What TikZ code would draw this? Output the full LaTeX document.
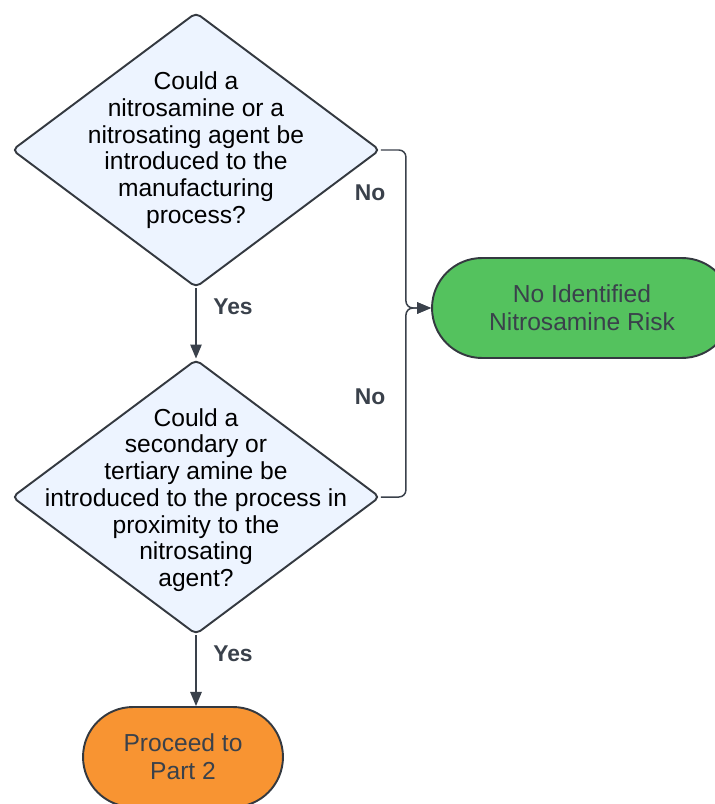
\documentclass[tikz,border=0pt]{standalone}
\usepackage{fontspec}
\setmainfont{Liberation Sans}
\usepackage{tikz}
\usetikzlibrary{shapes.geometric,arrows.meta,positioning,calc}
\definecolor{qblue}{RGB}{237,244,255}
\definecolor{edgegrey}{RGB}{52,57,64}
\definecolor{inkgrey}{RGB}{58,65,75}
\definecolor{riskgreen}{RGB}{84,194,94}
\definecolor{partorange}{RGB}{248,148,50}

\begin{document}
\begin{tikzpicture}[x=0.02cm,y=-0.02cm,
    decision/.style={diamond,draw=edgegrey,line width=1.1pt,fill=qblue,
      minimum width=7.36cm,minimum height=5.5cm,inner sep=0pt,rounded corners=3pt},
    qtext/.style={align=center,font=\fontsize{14}{15.2}\selectfont,text=black},
    terminal/.style={draw=edgegrey,line width=1.1pt,rounded corners=1cm,
      minimum height=2cm,align=center,text=inkgrey,font=\fontsize{14}{16}\selectfont},
    flow/.style={draw=inkgrey,line width=0.85pt,-{Triangle[length=8pt,width=6.5pt]}},
    answer/.style={font=\fontsize{13}{15}\selectfont\bfseries,text=inkgrey}]
  \useasboundingbox (0,0) rectangle (715,804);
  \clip (0,0) rectangle (715,804);
  % questions
  \node[decision] (q1) at (196,150) {};
  \node[qtext] (q1t) at (q1.center) {Could a\\nitrosamine or a\\nitrosating agent be\\introduced to the\\manufacturing\\process?};
  \node[decision] (q2) at (196,497) {};
  \node[qtext] (q2t) at (196,500) {Could a\\secondary or\\tertiary amine be\\introduced to the process in\\proximity to the\\nitrosating\\agent?};
  % outcomes
  \node[terminal,fill=riskgreen,minimum width=6cm] (risk) at (582,308) {No Identified\\Nitrosamine Risk};
  \node[terminal,fill=partorange,minimum width=4cm] (part2) at (183,757) {Proceed to\\Part 2};
  % connectors
  \draw[flow] (q1.south) -- (q2.north);
  \draw[flow] (q2.south) -- (q2.south |- part2.north);
  \draw[flow,rounded corners=4pt] (q1.east) -- ++(25,0) |- (risk.west);
  \draw[flow,rounded corners=4pt] (q2.east) -- ++(25,0) |- (risk.west);
  \node[answer] (yes1) at (233,307) {Yes};
  \node[answer] (yes2) at (233,654) {Yes};
  \node[answer] (no1) at (370,193) {No};
  \node[answer] (no2) at (370,397) {No};
\end{tikzpicture}
\end{document}
